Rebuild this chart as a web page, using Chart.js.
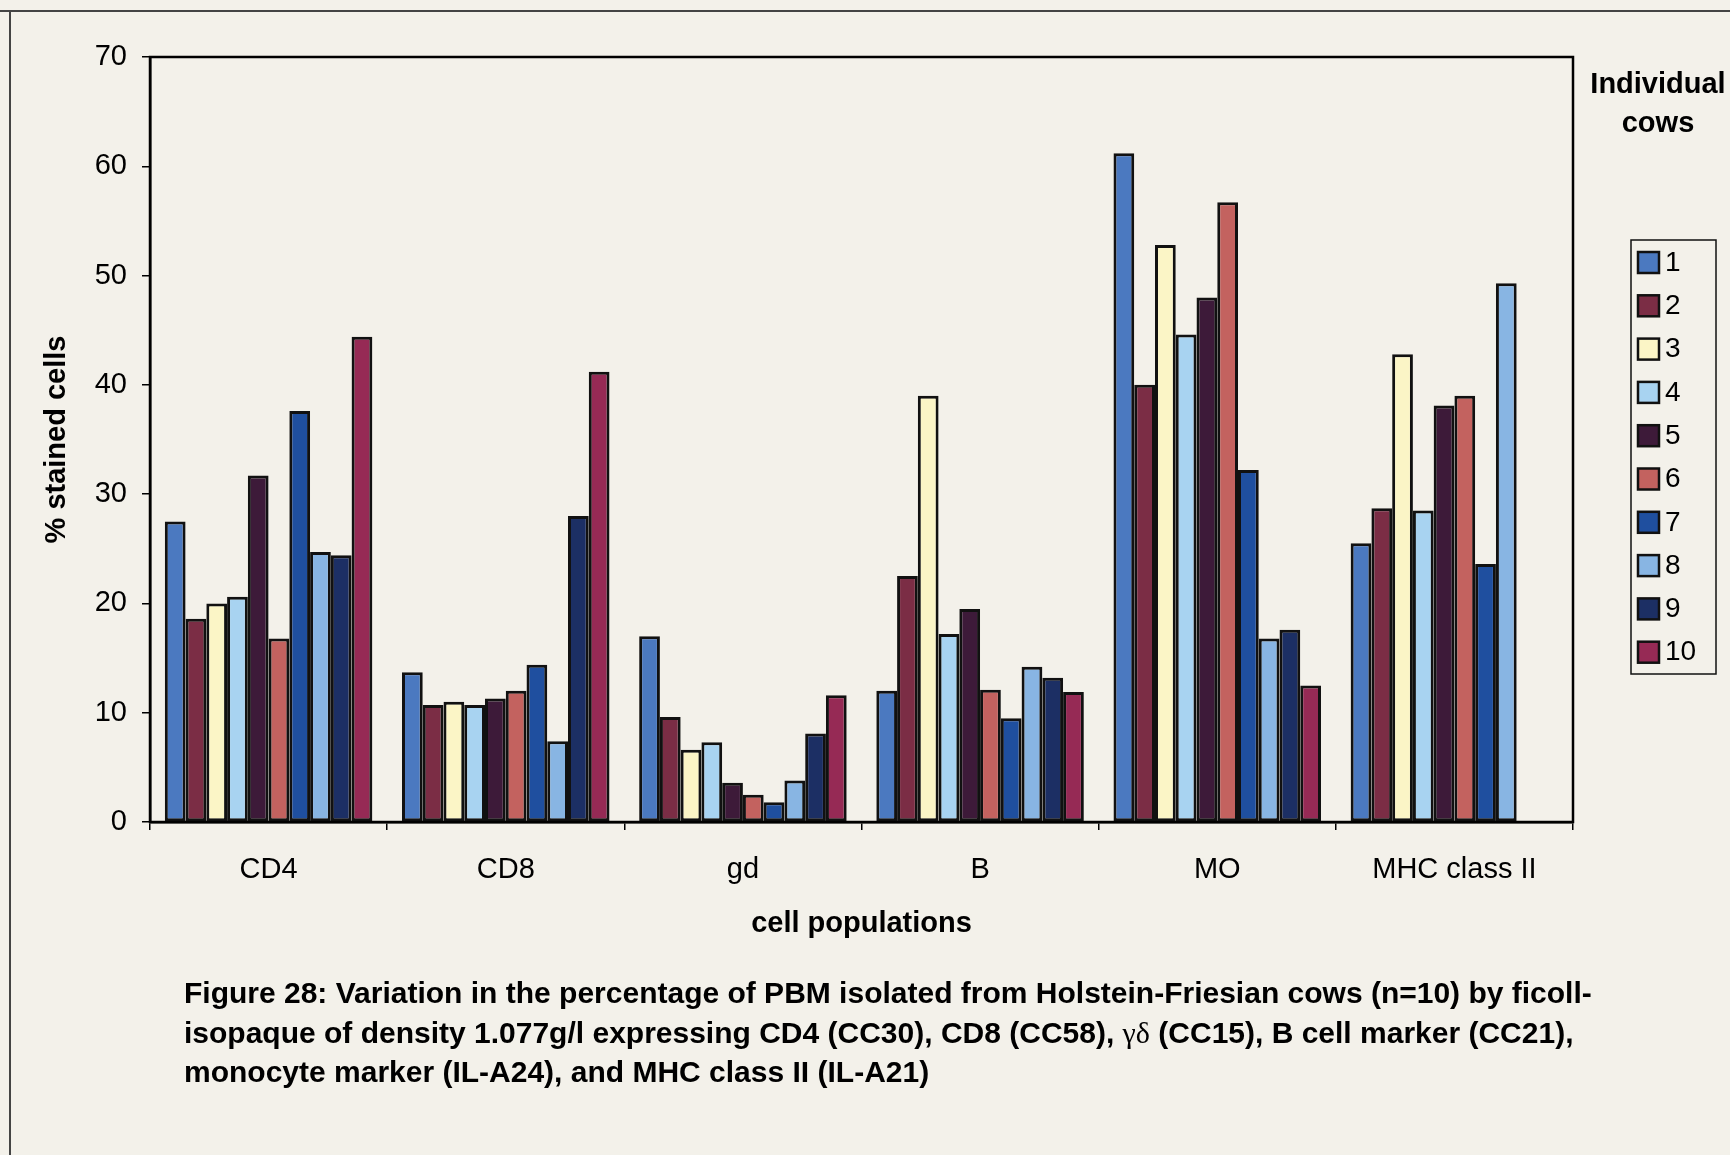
<!DOCTYPE html>
<html>
<head>
<meta charset="utf-8">
<script src="https://cdn.jsdelivr.net/npm/chart.js@4.4.0/dist/chart.umd.min.js"></script>
<style>
  html, body { margin: 0; padding: 0; background: #f3f1ea; }
  #wrap { width: 1730px; height: 1155px; }
</style>
</head>
<body>
<div id="wrap"><canvas id="chart" width="1730" height="1155"></canvas></div>
<script>
// cell populations on the x axis
const populations = ['CD4', 'CD8', 'gd', 'B', 'MO', 'MHC class II'];
const cowNames = ['1', '2', '3', '4', '5', '6', '7', '8', '9', '10'];

// % stained cells per cow, in population order
const cow1 = [27.5, 13.7, 17.0, 12.0, 61.2, 25.5];
const cow2 = [18.6, 10.7, 9.6, 22.5, 40.0, 28.7];
const cow3 = [20.0, 11.0, 6.6, 39.0, 52.8, 42.8];
const cow4 = [20.6, 10.7, 7.3, 17.2, 44.6, 28.5];
const cow5 = [31.7, 11.3, 3.6, 19.5, 48.0, 38.1];
const cow6 = [16.8, 12.0, 2.5, 12.1, 56.7, 39.0];
const cow7 = [37.6, 14.4, 1.8, 9.5, 32.2, 23.6];
const cow8 = [24.7, 7.4, 3.8, 14.2, 16.8, 49.3];
const cow9 = [24.4, 28.0, 8.1, 13.2, 17.6, null];
const cow10 = [44.4, 41.2, 11.6, 11.9, 12.5, null];

const yTicks = [0, 10, 20, 30, 40, 50, 60, 70];

const cowColors = ['#4b79c0', '#7b2d45', '#fbf5c6', '#a8d3f1', '#3d1a39',
                   '#c3625f', '#1f4f9f', '#88b5e3', '#1c2f64', '#962a55'];

const captionLines = [
  'Figure 28: Variation in the percentage of PBM isolated from Holstein-Friesian cows (n=10) by ficoll-',
  ['isopaque of density 1.077g/l expressing CD4 (CC30), CD8 (CC58), ', 'γδ', ' (CC15), B cell marker (CC21),'],
  'monocyte marker (IL-A24), and MHC class II (IL-A21)'
];

const allCows = [cow1, cow2, cow3, cow4, cow5, cow6, cow7, cow8, cow9, cow10];

const datasets = allCows.map((vals, i) => ({
  label: cowNames[i],
  data: vals,
  backgroundColor: cowColors[i],
  borderColor: '#111',
  borderWidth: 3,
  borderSkipped: false,
  barPercentage: 1.0,
  categoryPercentage: 0.875
}));

const FONT = '"Liberation Sans", Arial, sans-serif';

// page frame, plot box, legend and caption
const decor = {
  id: 'decor',
  beforeDraw(chart) {
    const ctx = chart.ctx;
    ctx.save();
    ctx.fillStyle = '#f3f1ea';
    ctx.fillRect(0, 0, chart.width, chart.height);
    ctx.strokeStyle = '#444';
    ctx.lineWidth = 2;
    ctx.beginPath();
    ctx.moveTo(0, 11);
    ctx.lineTo(chart.width, 11);
    ctx.moveTo(10, 11);
    ctx.lineTo(10, chart.height);
    ctx.stroke();
    ctx.restore();
  },
  afterDatasetsDraw(chart) {
    const a = chart.chartArea;
    const ctx = chart.ctx;
    ctx.save();
    ctx.strokeStyle = '#000';
    ctx.lineWidth = 2.5;
    ctx.strokeRect(a.left, a.top, a.right - a.left, a.bottom - a.top);
    ctx.restore();
  },
  afterDraw(chart) {
    const ctx = chart.ctx;
    ctx.save();
    ctx.fillStyle = '#000';

    // legend title
    ctx.font = 'bold 29px ' + FONT;
    ctx.textAlign = 'center';
    ctx.textBaseline = 'alphabetic';
    ctx.fillText('Individual', 1658, 93);
    ctx.fillText('cows', 1658, 132);

    // legend box
    ctx.strokeStyle = '#111';
    ctx.lineWidth = 1.5;
    ctx.strokeRect(1631, 240, 85, 434);
    ctx.font = '28px ' + FONT;
    ctx.textAlign = 'left';
    ctx.textBaseline = 'middle';
    chart.data.datasets.forEach((ds, i) => {
      const cy = 262 + i * 43.3;
      ctx.fillStyle = ds.backgroundColor;
      ctx.fillRect(1638, cy - 10, 21, 21);
      ctx.lineWidth = 2.5;
      ctx.strokeRect(1638, cy - 10, 21, 21);
      ctx.fillStyle = '#000';
      ctx.fillText(ds.label, 1665, cy + 1);
    });

    // caption
    ctx.textBaseline = 'alphabetic';
    const capFont = 'bold 30px ' + FONT;
    const y0 = 1003, lh = 39.5;
    captionLines.forEach((line, i) => {
      const y = y0 + i * lh;
      if (Array.isArray(line)) {
        let x = 184;
        line.forEach((part, j) => {
          ctx.font = j === 1 ? '30px "Liberation Serif", "DejaVu Serif", serif' : capFont;
          ctx.fillText(part, x, y);
          x += ctx.measureText(part).width;
        });
      } else {
        ctx.font = capFont;
        ctx.fillText(line, 184, y);
      }
    });
    ctx.restore();
  }
};

new Chart(document.getElementById('chart'), {
  type: 'bar',
  data: { labels: populations, datasets: datasets },
  options: {
    responsive: false,
    animation: false,
    devicePixelRatio: 1,
    layout: { padding: { top: 57, right: 157, left: 0, bottom: 214 } },
    plugins: {
      legend: { display: false },
      tooltip: { enabled: false },
      title: { display: false }
    },
    scales: {
      x: {
        afterFit: (scale) => { scale.height = 119; },
        grid: { display: true, drawOnChartArea: false, tickLength: 8, color: '#000', lineWidth: 1.5 },
        border: { display: true, color: '#000', width: 2.5 },
        ticks: { color: '#000', font: { family: FONT, size: 29 }, padding: 23, maxRotation: 0 },
        title: {
          display: true,
          text: 'cell populations',
          color: '#000',
          font: { family: FONT, size: 29, weight: 'bold' },
          padding: { top: 0, bottom: 0 }
        }
      },
      y: {
        min: 0,
        max: 70,
        afterFit: (scale) => { scale.width = 150; },
        afterBuildTicks: (scale) => { scale.ticks = yTicks.map(v => ({ value: v })); },
        grid: { display: true, drawOnChartArea: false, tickLength: 8, color: '#000', lineWidth: 1.5 },
        border: { display: true, color: '#000', width: 2.5 },
        ticks: { color: '#000', font: { family: FONT, size: 29 }, padding: 15 },
        title: {
          display: true,
          text: '% stained cells',
          color: '#000',
          font: { family: FONT, size: 29, weight: 'bold' },
          padding: { top: 40, bottom: 0 }
        }
      }
    }
  },
  plugins: [decor]
});
</script>
</body>
</html>
